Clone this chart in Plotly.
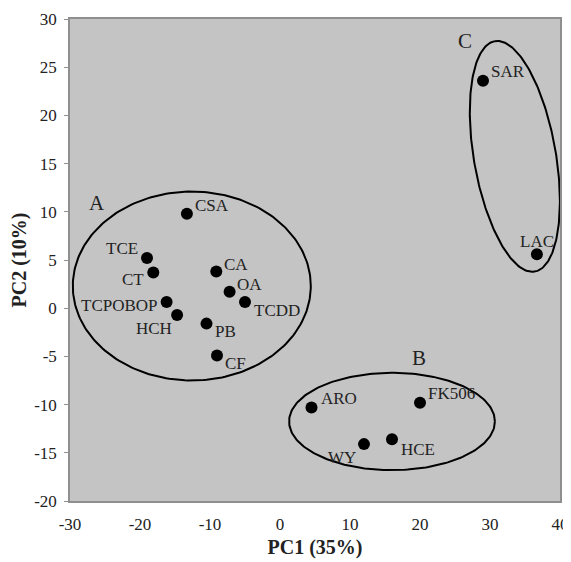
import numpy as np
import plotly.graph_objects as go

# ---- data ----
labels = ["CSA", "TCE", "CT", "CA", "OA", "TCDD", "TCPOBOP", "HCH", "PB", "CF",
          "SAR", "LAC", "ARO", "FK506", "WY", "HCE"]
pc1 = [-13.3, -19.0, -18.1, -9.1, -7.2, -5.0, -16.2, -14.7, -10.5, -9.0,
       29.0, 36.7, 4.5, 20.0, 12.0, 16.0]
pc2 = [9.8, 5.2, 3.7, 3.8, 1.7, 0.65, 0.65, -0.7, -1.6, -4.9,
       23.6, 5.6, -10.3, -9.8, -14.1, -13.6]
# label offsets from the dot, in pixels (right, up)
label_dx = [25, -25, -20, 20, 20, 32, -47, -23, 19, 18, 25, 0, 27, 31, -22, 26]
label_dy = [8, 10, -7, 7, 7, -9, -4, -14, -8, -8, 9, 13, 9, 9, -13, -10]

x_ticks = [-30, -20, -10, 0, 10, 20, 30, 40]
y_ticks = [-20, -15, -10, -5, 0, 5, 10, 15, 20, 25, 30]

groups = [
    dict(name="A", lx=-26.2, ly=10.9, cx=-12.6, cy=2.3, rx=17.0, ry=9.8),
    dict(name="B", lx=19.9, ly=-5.2, cx=16.0, cy=-11.75, rx=14.7, ry=5.05),
]
groupC = dict(name="C", lx=26.4, ly=27.7, top=(30.7, 27.7), bottom=(36.4, 3.8), minor_px=41.0)

FONT = "Liberation Serif, Times New Roman, serif"

# ---- layout geometry (page body has an 8px default margin) ----
W, H = 563, 554
ml, mr, mt, mb = 62, 11, 11, 61
xr = [-30, 40]
yr = [-20, 30]
sx = (W - ml - mr) / (xr[1] - xr[0])
sy = (H - mt - mb) / (yr[1] - yr[0])

fig = go.Figure()

t = np.linspace(0, 2 * np.pi, 240)
for g in groups:
    fig.add_trace(go.Scatter(x=g["cx"] + g["rx"] * np.cos(t), y=g["cy"] + g["ry"] * np.sin(t),
                             mode="lines", line=dict(color="black", width=2),
                             hoverinfo="skip", showlegend=False))

(tx, ty), (bx, by) = groupC["top"], groupC["bottom"]
cxp, cyp = (tx + bx) / 2 * sx, (ty + by) / 2 * sy
dxp, dyp = (tx - bx) / 2 * sx, (ty - by) / 2 * sy
a = np.hypot(dxp, dyp)
ux, uy = dxp / a, dyp / a
vx, vy = -uy, ux
b = groupC["minor_px"]
ex = (cxp + a * np.cos(t) * ux + b * np.sin(t) * vx) / sx
ey = (cyp + a * np.cos(t) * uy + b * np.sin(t) * vy) / sy
fig.add_trace(go.Scatter(x=ex, y=ey, mode="lines", line=dict(color="black", width=2),
                         hoverinfo="skip", showlegend=False))

fig.add_trace(go.Scatter(x=pc1, y=pc2, mode="markers",
                         marker=dict(color="black", size=12),
                         showlegend=False, cliponaxis=False))

for lab, x, y, dx, dy in zip(labels, pc1, pc2, label_dx, label_dy):
    fig.add_annotation(x=x, y=y, text=lab, showarrow=False, xshift=dx, yshift=dy,
                       font=dict(family=FONT, size=17, color="#222"))

for g in groups + [groupC]:
    fig.add_annotation(x=g["lx"], y=g["ly"], text=g["name"], showarrow=False,
                       font=dict(family=FONT, size=21, color="#222"))

axis_common = dict(showgrid=False, zeroline=False, showline=True, mirror=True,
                   linecolor="#8f8f8f", linewidth=1.5, automargin=False,
                   tickfont=dict(family=FONT, size=17, color="#222"))
fig.update_xaxes(range=xr, tickvals=x_ticks, ticktext=[str(v) for v in x_ticks],
                 ticks="", ticklabelstandoff=7, **axis_common,
                 title=dict(text="<b>PC1 (35%)</b>", standoff=7,
                            font=dict(family=FONT, size=20, color="#222")))
fig.update_yaxes(range=yr, tickvals=y_ticks, ticktext=[str(v) for v in y_ticks],
                 ticks="outside", ticklen=4, tickcolor="#8f8f8f", ticklabelstandoff=4,
                 **axis_common,
                 title=dict(text="<b>PC2 (10%)</b>", standoff=5,
                            font=dict(family=FONT, size=20, color="#222")))

fig.update_layout(width=W, height=H, margin=dict(l=ml, r=mr, t=mt, b=mb),
                  plot_bgcolor="#c4c4c4", paper_bgcolor="white")

fig.write_html("out.html")
